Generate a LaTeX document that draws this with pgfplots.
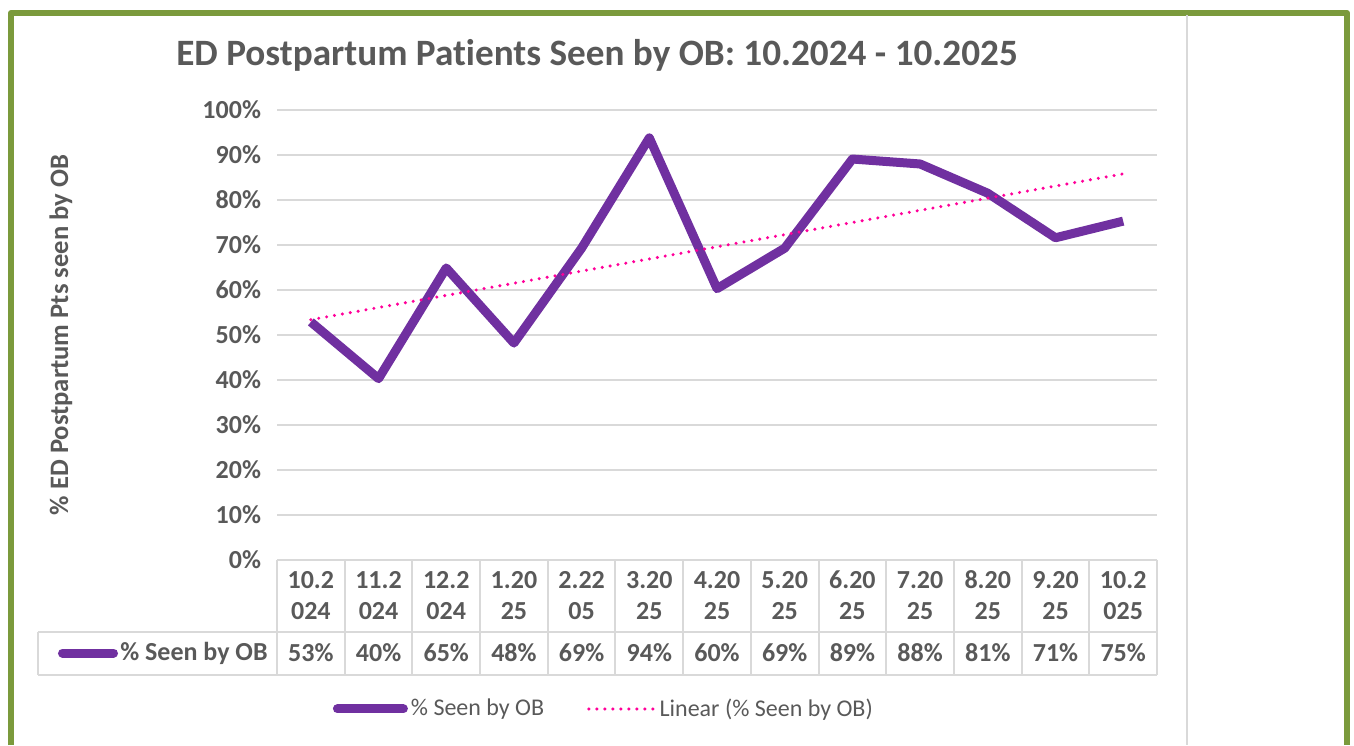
\documentclass[border=0pt]{standalone}
\usepackage{pgfplots}
\pgfplotsset{compat=1.18}
\usepackage{fontspec}
\setmainfont{Carlito}[Ligatures={NoCommon,NoContextual,NoRare,NoDiscretionary}]
\definecolor{txt}{HTML}{595959}
\definecolor{gridc}{HTML}{D9D9D9}
\definecolor{frame}{HTML}{7B9A3C}
\definecolor{purp}{HTML}{7030A0}
\definecolor{mag}{HTML}{FF0099}
\begin{document}
\begin{tikzpicture}[x=0.5bp,y=0.5bp]
\path[use as bounding box] (0,0) rectangle (1354,745);
\draw[frame,line width=3bp,line join=round] (11,0) -- (11,732) -- (1347,732) -- (1347,0);
\draw[gridc,line width=0.8bp] (1187,730) -- (1187,0);
\node[txt,font=\fontsize{18.6bp}{22bp}\selectfont\bfseries] at (597,690) {ED Postpartum Patients Seen by OB: 10.2024 - 10.2025};
\node[txt,font=\fontsize{13.3bp}{16bp}\selectfont\bfseries,rotate=90] at (61,410) {\% ED Postpartum Pts seen by OB};
\begin{axis}[
  at={(138.5bp,92.5bp)}, anchor=south west,
  scale only axis, width=440bp, height=225bp,
  xmin=-0.5, xmax=12.5, ymin=0, ymax=100,
  clip=false,
  axis line style={draw=none},
  major tick length=0pt,
  xtick=\empty,
  ytick={0,10,...,100},
  ymajorgrids, grid style={gridc,line width=1bp},
  yticklabel={\pgfmathprintnumber{\tick}\%},
  /pgf/number format/assume math mode=true,
  yticklabel style={txt,font=\fontsize{13bp}{15bp}\selectfont\bfseries,xshift=-4.5bp},
  legend style={at={(0.372,-0.331)},anchor=center,draw=none,fill=none,
    legend columns=2,font=\fontsize{12bp}{14bp}\selectfont,text=txt,
    /tikz/every even column/.append style={column sep=20bp},
    inner sep=0pt, nodes={inner sep=1.5bp}},
  legend cell align=left,
]
\addplot[purp,line width=4.5bp,line join=round,
  legend image code/.code={\draw[purp,line width=4.5bp,line cap=round] (2.25bp,0bp) -- (35.25bp,0bp);}]
  coordinates {(0,52.9) (1,40.3) (2,64.9) (3,48.2) (4,69.3) (5,93.8) (6,60.3) (7,69.3) (8,89.1) (9,88.0) (10,81.5) (11,71.6) (12,75.3)};
\addlegendentry{\% Seen by OB}
\addplot[mag,line width=1.7bp,line cap=round,dash pattern=on 0bp off 4bp,
  legend image code/.code={\draw[mag,line width=1.7bp,line cap=round,dash pattern=on 0bp off 4bp] (1bp,0bp) -- (34bp,0bp);}]
  coordinates {(0,53.4) (12,85.8)};
\addlegendentry{Linear (\% Seen by OB)}
% data table
\pgfplotsinvokeforeach{0,...,13}{\draw[gridc,line width=1bp] (axis cs:#1-0.5,0) -- (axis cs:#1-0.5,-25.56);}
\draw[gridc,line width=1bp] (axis cs:-4.03,-16) -- (axis cs:12.5,-16);
\draw[gridc,line width=1bp] (axis cs:-4.03,-25.56) -- (axis cs:12.5,-25.56);
\draw[gridc,line width=1bp] (axis cs:-4.03,-16) -- (axis cs:-4.03,-25.56);
\draw[purp,line width=4.5bp,line cap=round] (axis cs:-3.669,-20.67) -- (axis cs:-2.915,-20.67);
\node[txt,anchor=east,inner sep=0pt,font=\fontsize{13bp}{15bp}\selectfont\bfseries] at (axis cs:-0.633,-20.67) {\% Seen by OB};
\tikzset{hd/.style={txt,align=center,inner sep=0pt,font=\fontsize{13bp}{15.5bp}\selectfont\bfseries},
         vl/.style={txt,inner sep=0pt,font=\fontsize{13bp}{15bp}\selectfont\bfseries}}
\node[hd] at (axis cs:0,-7.9) {10.2\\024};
\node[hd] at (axis cs:1,-7.9) {11.2\\024};
\node[hd] at (axis cs:2,-7.9) {12.2\\024};
\node[hd] at (axis cs:3,-7.9) {1.20\\25};
\node[hd] at (axis cs:4,-7.9) {2.22\\05};
\node[hd] at (axis cs:5,-7.9) {3.20\\25};
\node[hd] at (axis cs:6,-7.9) {4.20\\25};
\node[hd] at (axis cs:7,-7.9) {5.20\\25};
\node[hd] at (axis cs:8,-7.9) {6.20\\25};
\node[hd] at (axis cs:9,-7.9) {7.20\\25};
\node[hd] at (axis cs:10,-7.9) {8.20\\25};
\node[hd] at (axis cs:11,-7.9) {9.20\\25};
\node[hd] at (axis cs:12,-7.9) {10.2\\025};
\node[vl] at (axis cs:0,-20.67) {53\%};
\node[vl] at (axis cs:1,-20.67) {40\%};
\node[vl] at (axis cs:2,-20.67) {65\%};
\node[vl] at (axis cs:3,-20.67) {48\%};
\node[vl] at (axis cs:4,-20.67) {69\%};
\node[vl] at (axis cs:5,-20.67) {94\%};
\node[vl] at (axis cs:6,-20.67) {60\%};
\node[vl] at (axis cs:7,-20.67) {69\%};
\node[vl] at (axis cs:8,-20.67) {89\%};
\node[vl] at (axis cs:9,-20.67) {88\%};
\node[vl] at (axis cs:10,-20.67) {81\%};
\node[vl] at (axis cs:11,-20.67) {71\%};
\node[vl] at (axis cs:12,-20.67) {75\%};
\end{axis}
\end{tikzpicture}
\end{document}
